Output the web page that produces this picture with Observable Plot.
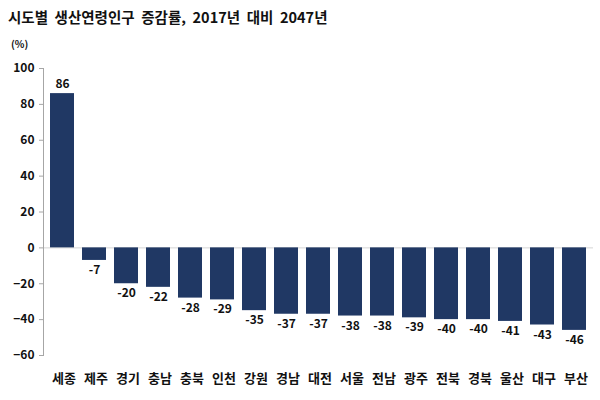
<!DOCTYPE html>
<html>
<head>
<meta charset="utf-8">
<script src="https://cdn.jsdelivr.net/npm/d3@7"></script>
<script src="https://cdn.jsdelivr.net/npm/@observablehq/plot@0.6"></script>
<style>
  html, body { margin: 0; padding: 0; background: #fff; }
  body { width: 600px; height: 400px; overflow: hidden; font-family: "Noto Sans CJK KR", "Noto Sans", sans-serif; }
  #head { height: 56px; position: relative; }
  #title { position: absolute; left: 8px; top: 6px; font-size: 14.5px; font-weight: bold; color: #111; white-space: pre; }
  #unit { position: absolute; left: 11px; top: 36px; font-size: 10px; font-weight: bold; color: #111; }
</style>
</head>
<body>
<div id="head">
  <div id="title">시도별  생산연령인구  증감률,  2017년  대비  2047년</div>
  <div id="unit">(%)</div>
</div>
<div id="chart"></div>
<script>
const regions = ["세종","제주","경기","충남","충북","인천","강원","경남","대전","서울","전남","광주","전북","경북","울산","대구","부산"];
const rates = [86, -7, -20, -22, -28, -29, -35, -37, -37, -38, -38, -39, -40, -40, -41, -43, -46];
const yTicks = [-60, -40, -20, 0, 20, 40, 60, 80, 100];

const data = regions.map((r, i) => ({region: r, rate: rates[i]}));
const font = "'Noto Sans CJK KR', sans-serif";

const chart = Plot.plot({
  width: 600,
  height: 344,
  marginTop: 12,
  marginBottom: 45,
  marginLeft: 43,
  marginRight: 7,
  style: {fontFamily: font, fontWeight: "bold", color: "#111", background: "#fff"},
  x: {domain: regions, paddingInner: 0.24, paddingOuter: 0.145, label: null},
  y: {domain: [-60, 100], label: null},
  marks: [
    Plot.ruleY([0], {stroke: "#d4d4d4", strokeWidth: 1}),
    Plot.barY(data, {x: "region", y: "rate", fill: "#203864"}),
    Plot.frame({anchor: "left", stroke: "#a6a6a6"}),
    Plot.axisY({ticks: yTicks, tickSize: 4, tickPadding: 5, stroke: "#a6a6a6", fontSize: 12, fontWeight: "bold", fill: "#111", label: null}),
    Plot.axisX({tickSize: 0, tickPadding: 18, dx: 1.5, fontSize: 13, fontWeight: "bold", fill: "#111", label: null, style: "letter-spacing: 3px"}),
    Plot.text(data.filter(d => d.rate >= 0), {x: "region", y: "rate", text: d => String(d.rate), lineAnchor: "bottom", dy: -6, fontSize: 12, fontWeight: "bold", fill: "#111"}),
    Plot.text(data.filter(d => d.rate < 0), {x: "region", y: "rate", text: d => String(d.rate), lineAnchor: "top", dy: 5, fontSize: 12, fontWeight: "bold", fill: "#111"})
  ]
});
document.getElementById("chart").appendChild(chart);
</script>
</body>
</html>
